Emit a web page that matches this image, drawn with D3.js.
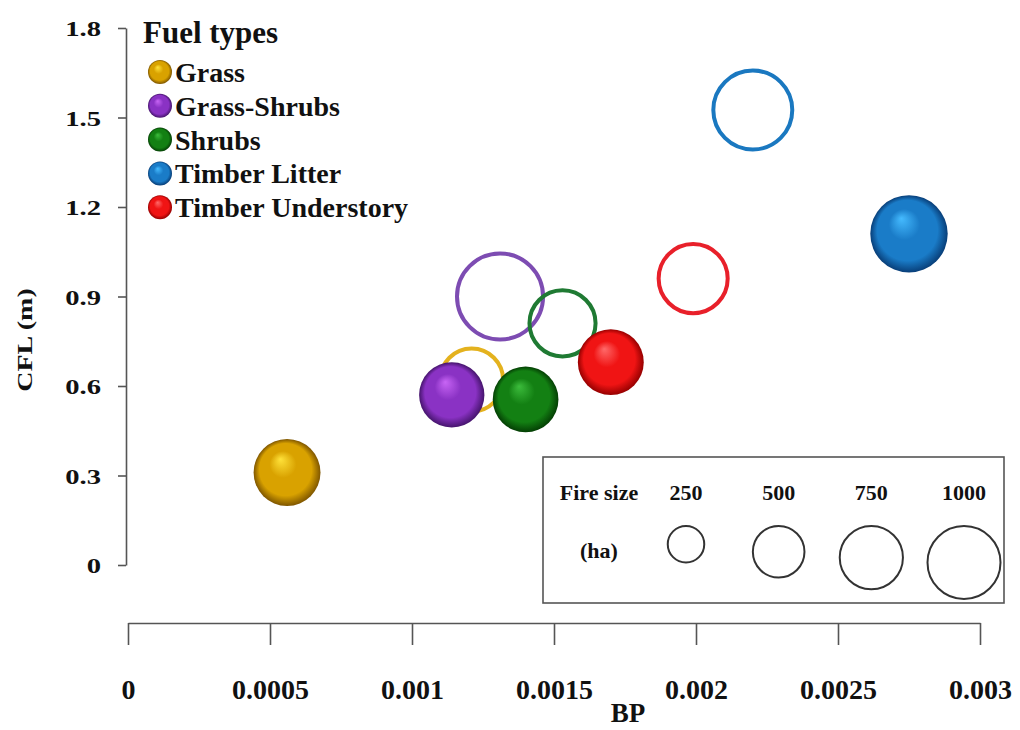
<!DOCTYPE html>
<html>
<head>
<meta charset="utf-8">
<script src="https://cdn.jsdelivr.net/npm/d3@7"></script>
<style>
  html, body { margin: 0; padding: 0; background: #fff; }
  svg { display: block; }
  text { font-family: "Liberation Serif", "Times New Roman", serif; font-weight: bold; fill: #111; }
</style>
</head>
<body>
<svg id="chart" width="1020" height="730"></svg>
<script>
// Fuel types, in legend order
const fuelTypes = ["Grass", "Grass-Shrubs", "Shrubs", "Timber Litter", "Timber Understory"];
const fuelColors = ["#d9a200", "#8a32c4", "#138013", "#1a7cc8", "#f01414"];
const ringColors = ["#e4b21e", "#7d4cb2", "#1f7a33", "#1a78c0", "#e8202a"];
const highlightColors = ["#ffe23a", "#c865f5", "#3cbc3c", "#45bbff", "#ff6a6a"];
const edgeColors = ["#7f5600", "#45146c", "#043f04", "#083e78", "#960000"];

// Solid spheres: burn probability, conditional flame length, fire size
const solidBP = [0.00056, 0.00114, 0.00140, 0.00275, 0.00170];
const solidCFL = [0.31, 0.57, 0.555, 1.11, 0.68];
const solidSize = [840, 800, 810, 1125, 815];

// Hollow rings: burn probability, conditional flame length, fire size
const ringBP = [0.00121, 0.00131, 0.00153, 0.00220, 0.00199];
const ringCFL = [0.62, 0.90, 0.81, 1.525, 0.96];
const ringSize = [745, 1390, 820, 1170, 895];

// Fire size key and axis ticks
const sizeKey = [250, 500, 750, 1000];
const xTicks = [0, 0.0005, 0.001, 0.0015, 0.002, 0.0025, 0.003];
const yTicks = [0, 0.3, 0.6, 0.9, 1.2, 1.5, 1.8];

const svg = d3.select("#chart");
svg.append("rect").attr("width", 1020).attr("height", 730).attr("fill", "#fff");

const x = d3.scaleLinear().domain([0, 0.003]).range([128, 980]);
const y = d3.scaleLinear().domain([0, 1.8]).range([565, 28]);
const r = d3.scaleSqrt().domain([0, 1000]).range([0, 36.5]);

// Sphere shading gradients
const defs = svg.append("defs");
fuelTypes.forEach((f, i) => {
  const g = defs.append("radialGradient")
    .attr("id", "sph" + i)
    .attr("cx", "50%").attr("cy", "50%").attr("r", "50%")
    .attr("fx", "40%").attr("fy", "30%");
  g.append("stop").attr("offset", "0%").attr("stop-color", highlightColors[i]);
  g.append("stop").attr("offset", "40%").attr("stop-color", fuelColors[i]);
  g.append("stop").attr("offset", "78%").attr("stop-color", fuelColors[i]);
  g.append("stop").attr("offset", "100%").attr("stop-color", edgeColors[i]);
});

// Y axis
const yAxis = svg.append("g")
  .attr("transform", "translate(126,0)")
  .call(d3.axisLeft(y).tickValues(yTicks).tickSize(8).tickSizeOuter(0)
    .tickFormat(d => d === 0 ? "0" : d.toFixed(1)));
yAxis.selectAll("path, line").attr("stroke", "#555").attr("stroke-width", 1.6);
yAxis.selectAll("text")
  .attr("font-size", 22)
  .attr("fill", "#111")
  .attr("font-family", "Liberation Serif, serif")
  .attr("font-weight", "bold")
  .attr("x", -25 / 1.3)
  .attr("dy", "0.36em")
  .attr("transform", "scale(1.3,1)");

svg.append("text")
  .attr("transform", "translate(32,340) rotate(-90) scale(1.4,1)")
  .attr("text-anchor", "middle")
  .attr("font-size", 20)
  .text("CFL (m)");

// X axis, drawn below the plotting area
const xAxis = svg.append("g")
  .attr("transform", "translate(0,623)")
  .call(d3.axisBottom(x).tickValues(xTicks).tickSize(22).tickSizeOuter(0)
    .tickFormat(d => String(d)));
xAxis.selectAll("path, line").attr("stroke", "#555").attr("stroke-width", 1.6);
xAxis.selectAll("text")
  .attr("font-size", 28)
  .attr("fill", "#111")
  .attr("font-family", "Liberation Serif, serif")
  .attr("font-weight", "bold")
  .attr("y", 76)
  .attr("dy", null);

svg.append("text")
  .attr("x", 628).attr("y", 722)
  .attr("text-anchor", "middle")
  .attr("font-size", 27)
  .text("BP");

// Hollow rings
const idx = d3.range(fuelTypes.length);
svg.append("g").selectAll("circle")
  .data(idx)
  .join("circle")
  .attr("cx", i => x(ringBP[i]))
  .attr("cy", i => y(ringCFL[i]))
  .attr("r", i => r(ringSize[i]))
  .attr("fill", "none")
  .attr("stroke", i => ringColors[i])
  .attr("stroke-width", 4);

// Solid spheres
svg.append("g").selectAll("circle")
  .data(idx)
  .join("circle")
  .attr("cx", i => x(solidBP[i]))
  .attr("cy", i => y(solidCFL[i]))
  .attr("r", i => r(solidSize[i]))
  .attr("fill", i => `url(#sph${i})`);

// Fuel type legend
const leg = svg.append("g");
leg.append("text").attr("x", 143).attr("y", 43).attr("font-size", 31).text("Fuel types");
const items = leg.selectAll("g.item")
  .data(idx)
  .join("g")
  .attr("class", "item")
  .attr("transform", i => `translate(0,${72 + i * 33.8})`);
items.append("circle").attr("cx", 160).attr("cy", 0).attr("r", 12)
  .attr("fill", i => `url(#sph${i})`);
items.append("text").attr("x", 175).attr("y", 10).attr("font-size", 28)
  .text(i => fuelTypes[i]);

// Fire size key
const key = svg.append("g");
key.append("rect")
  .attr("x", 543).attr("y", 457).attr("width", 461).attr("height", 146)
  .attr("fill", "none").attr("stroke", "#555").attr("stroke-width", 1.6);
key.append("text").attr("x", 599).attr("y", 500).attr("text-anchor", "middle")
  .attr("font-size", 22).text("Fire size");
key.append("text").attr("x", 599).attr("y", 558).attr("text-anchor", "middle")
  .attr("font-size", 22).text("(ha)");
const keyX = d3.scalePoint().domain(sizeKey).range([686, 964]);
key.selectAll("text.size")
  .data(sizeKey)
  .join("text")
  .attr("class", "size")
  .attr("x", d => keyX(d))
  .attr("y", 500)
  .attr("text-anchor", "middle")
  .attr("font-size", 22)
  .text(d => d);
key.selectAll("circle")
  .data(sizeKey)
  .join("circle")
  .attr("cx", d => keyX(d))
  .attr("cy", d => 526 + r(d))
  .attr("r", d => r(d))
  .attr("fill", "none")
  .attr("stroke", "#333")
  .attr("stroke-width", 2);
</script>
</body>
</html>
